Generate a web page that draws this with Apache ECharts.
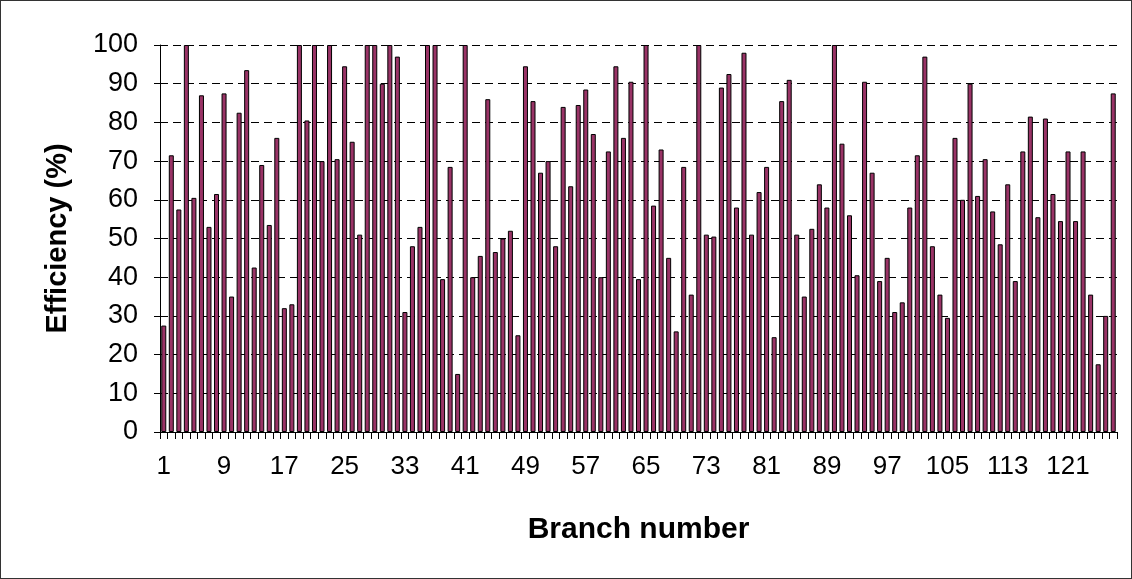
<!DOCTYPE html>
<html>
<head>
<meta charset="utf-8">
<script src="https://cdn.jsdelivr.net/npm/echarts@6/dist/echarts.min.js"></script>
<style>
html,body{margin:0;padding:0;background:#fff;}
#chart{width:1130px;height:577px;border:1px solid #333;}
</style>
</head>
<body>
<div id="chart"></div>
<script>
const branches = Array.from({length: 127}, (_, i) => String(i + 1));
const efficiency = [
  27.5, 71.5, 57.5, 100, 60.5, 87, 53, 61.5, 87.5, 35,
  82.5, 93.5, 42.5, 69, 53.5, 76, 32, 33, 100, 80.5,
  100, 70, 100, 70.5, 94.5, 75, 51, 100, 100, 90,
  100, 97, 31, 48, 53, 100, 100, 39.5, 68.5, 15,
  100, 40, 45.5, 86, 46.5, 50, 52, 25, 94.5, 85.5,
  67, 70, 48, 84, 63.5, 84.5, 88.5, 77, 40, 72.5,
  94.5, 76, 90.5, 39.5, 100, 58.5, 73, 45, 26, 68.5,
  35.5, 100, 51, 50.5, 89, 92.5, 58, 98, 51, 62,
  68.5, 24.5, 85.5, 91, 51, 35, 52.5, 64, 58, 100,
  74.5, 56, 40.5, 90.5, 67, 39, 45, 31, 33.5, 58,
  71.5, 97, 48, 35.5, 29.5, 76, 60, 90, 61, 70.5,
  57, 48.5, 64, 39, 72.5, 81.5, 55.5, 81, 61.5, 54.5,
  72.5, 54.5, 72.5, 35.5, 17.5, 30, 87.5
];
const yTicks = [0, 10, 20, 30, 40, 50, 60, 70, 80, 90, 100];

const FONT = "'Liberation Sans', Arial, sans-serif";
const chart = echarts.init(document.getElementById('chart'));
chart.setOption({
  animation: false,
  grid: {left: 159, top: 44, right: 14, bottom: 146, containLabel: false},
  xAxis: {
    type: 'category',
    data: branches,
    name: 'Branch number',
    nameLocation: 'middle',
    nameGap: 83,
    nameTextStyle: {fontFamily: FONT, fontSize: 30, fontWeight: 'bold', color: '#000'},
    axisLine: {show: true, lineStyle: {color: '#000', width: 1}},
    axisTick: {show: true, interval: 0, length: 7, lineStyle: {color: '#000'}},
    axisLabel: {interval: 7, margin: 22, fontFamily: FONT, fontSize: 26, color: '#000'},
    splitLine: {show: false}
  },
  yAxis: {
    type: 'value',
    min: yTicks[0],
    max: yTicks[yTicks.length - 1],
    interval: 10,
    name: 'Efficiency (%)',
    nameLocation: 'middle',
    nameGap: 88,
    nameRotate: 90,
    nameTextStyle: {fontFamily: FONT, fontSize: 29, fontWeight: 'bold', color: '#000'},
    axisLine: {show: true, lineStyle: {color: '#000', width: 1}},
    axisTick: {show: true, length: 6, lineStyle: {color: '#000'}},
    axisLabel: {margin: 22, fontFamily: FONT, fontSize: 27, color: '#000'},
    splitLine: {show: true, lineStyle: {color: '#000', width: 1, type: [8, 5]}}
  },
  series: [{
    type: 'bar',
    data: efficiency,
    barWidth: 5,
    itemStyle: {color: '#993366', borderColor: '#000', borderWidth: 1}
  }]
});
</script>
</body>
</html>
